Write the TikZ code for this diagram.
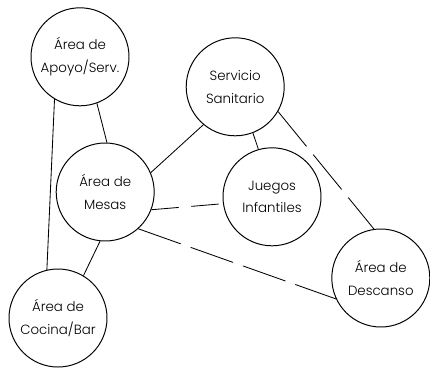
\documentclass[tikz,border=0pt]{standalone}
\usepackage{fontspec}
\setmainfont{Poppins}[UprightFont=* Light]
\begin{document}
\begin{tikzpicture}[line width=0.7pt,
    zona/.style={draw, circle, minimum size=2.45cm, inner sep=0pt, align=center,
      font=\fontsize{9.5}{16}\selectfont},
    enlace/.style={line width=0.6pt},
    enlaceLargo/.style={line width=0.6pt, dash pattern=on 32pt off 7.5pt},
    enlaceCorto/.style={line width=0.6pt, dash pattern=on 19.5pt off 9pt}]

    % --- 1. Marco del dibujo ---
    \useasboundingbox (0, 0) rectangle (10.75, 9.2);

    % --- 2. Zonas ---
    \node[zona] (Apoyo)    at (2.00, 7.78) {Área de\\Apoyo/Serv.};
    \node[zona] (Servicio) at (5.88, 7.03) {Servicio\\Sanitario};
    \node[zona] (Mesas)    at (2.63, 4.40) {Área de\\Mesas};
    \node[zona] (Juegos)   at (6.80, 4.28) {Juegos\\Infantiles};
    \node[zona] (Descanso) at (9.52, 2.25) {Área de\\Descanso};
    \node[zona] (Cocina)   at (1.45, 1.25) {Área de\\Cocina/Bar};

    % --- 3. Relaciones directas ---
    \draw[enlace] (Apoyo.239)    -- (Cocina.103);
    \draw[enlace] (Apoyo.290)    -- (Mesas.88);
    \draw[enlace] (Servicio.230) -- (Mesas.23);
    \draw[enlace] (Servicio.291) -- (Juegos.106);
    \draw[enlace] (Mesas.264)    -- (Cocina.59);

    % --- 4. Relaciones secundarias (discontinuas) ---
    \draw[enlaceLargo] (Servicio.330) -- (Descanso.98);
    \draw[enlaceCorto] (Mesas.339)    -- (Juegos.188);
    \draw[enlaceLargo] (Mesas.312)    -- (Descanso.205);

\end{tikzpicture}
\end{document}
